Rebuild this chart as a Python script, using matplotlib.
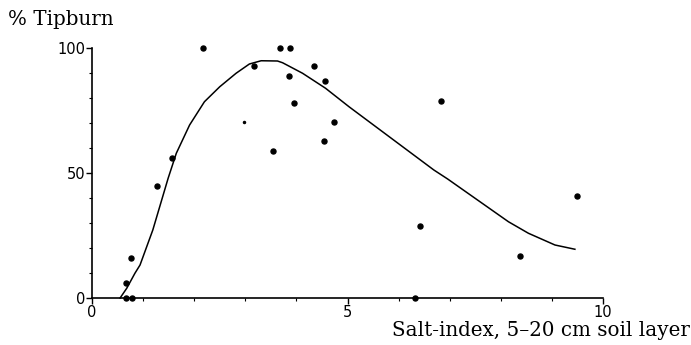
import matplotlib.pyplot as plt
from matplotlib.ticker import MultipleLocator

# observed points (salt index, % tipburn)
salt_idx = [0.66, 0.67, 0.77, 0.79, 1.27, 1.57, 2.18, 3.18, 3.55, 3.68, 3.87,
            3.86, 3.96, 4.35, 4.55, 4.54, 4.74, 6.32, 6.41, 6.82, 8.38, 9.49]
tipburn = [6, 0, 16, 0, 45, 56, 100, 93, 59, 100, 100,
           89, 78, 93, 87, 63, 70.5, 0, 29, 79, 17, 41]

# faint extra dot
small_x = [2.98]
small_y = [70.5]

# fitted curve
curve_x = [0.55, 0.68, 0.84, 0.94, 1.19, 1.49, 1.65, 1.91, 2.20, 2.50, 2.82, 3.08,
           3.31, 3.63, 3.73, 4.12, 4.57, 5.03, 6.69, 6.96, 8.15, 8.54, 9.06, 9.45]
curve_y = [0, 3.9, 9.9, 13.2, 27.2, 47.9, 57.9, 69.2, 78.5, 84.5, 89.9, 93.6,
           94.9, 94.8, 94.1, 89.9, 83.9, 76.5, 51.2, 47.6, 30.5, 25.9, 21.2, 19.5]

fig = plt.figure(figsize=(6.91, 3.45), dpi=100)
ax = fig.add_axes([92 / 691, 47 / 345, 511 / 691, 250 / 345])

ax.plot(curve_x, curve_y, color='black', lw=1.1, clip_on=False)
ax.plot(salt_idx, tipburn, 'o', color='black', ms=3.6, clip_on=False)
ax.plot(small_x, small_y, 'o', color='black', ms=1.5)

ax.set_xlim(0, 10)
ax.set_ylim(0, 100)
ax.spines['top'].set_visible(False)
ax.spines['right'].set_visible(False)
ax.spines['left'].set_linewidth(1.2)
ax.spines['bottom'].set_linewidth(1.2)

ax.set_xticks([0, 5, 10])
ax.set_yticks([0, 50, 100])
ax.xaxis.set_minor_locator(MultipleLocator(1))
ax.yaxis.set_minor_locator(MultipleLocator(10))
ax.tick_params(which='major', direction='out', length=4, width=1, labelsize=10.5, pad=1)
ax.tick_params(which='minor', direction='out', length=2, width=0.8)

fig.text(8 / 691, 1 - 25 / 345, '% Tipburn', family='DejaVu Serif', fontsize=14.3)
fig.text(690 / 691, 5 / 345, 'Salt-index, 5\u201320 cm soil layer', family='DejaVu Serif',
         fontsize=14.3, ha='right', va='bottom')

fig.savefig('out.png', dpi=100)
